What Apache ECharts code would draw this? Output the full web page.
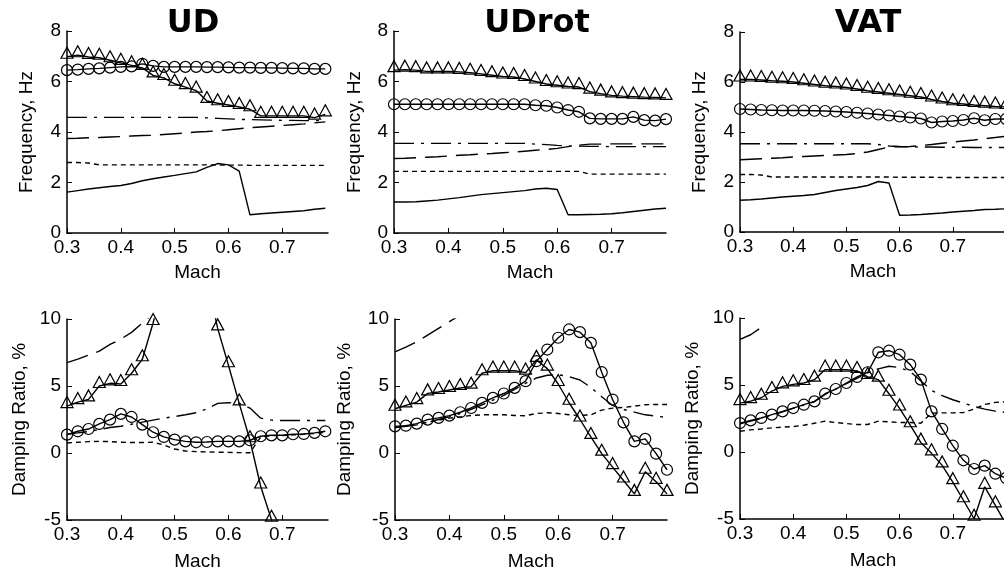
<!DOCTYPE html>
<html>
<head>
<meta charset="utf-8">
<script src="https://cdn.jsdelivr.net/npm/echarts@6/dist/echarts.min.js"></script>
<style>
  html, body { margin: 0; padding: 0; background: #fff; }
  #chart { width: 1004px; height: 573px; }
</style>
</head>
<body>
<div id="chart"></div>
<script>
// Mach grids
const machUD = [0.30,0.32,0.34,0.36,0.38,0.40,0.42,0.44,0.46,0.48,0.50,0.52,0.54,0.56,0.58,0.60,0.62,0.64,0.66,0.68,0.70,0.72,0.74,0.76,0.78];
const machLong = [0.30,0.32,0.34,0.36,0.38,0.40,0.42,0.44,0.46,0.48,0.50,0.52,0.54,0.56,0.58,0.60,0.62,0.64,0.66,0.68,0.70,0.72,0.74,0.76,0.78,0.80];

const panelTitles = ["UD", "UDrot", "VAT"];
const freqTicks = { min: 0, max: 8, interval: 2 };
const dampTicks = { min: -5, max: 10, interval: 5 };

// UD frequency, Hz
const udFreqTri = [6.98,7.04,6.97,6.94,6.84,6.74,6.64,6.54,6.24,6.14,5.91,5.78,5.64,5.23,5.14,5.07,4.99,4.9,4.64,4.64,4.64,4.64,4.64,4.57,4.7];
const udFreqCir = [6.45,6.47,6.5,6.52,6.55,6.58,6.6,6.7,6.62,6.58,6.58,6.58,6.58,6.57,6.57,6.56,6.55,6.55,6.54,6.54,6.53,6.52,6.52,6.5,6.5];
const udFreqDashDot = [4.58,4.58,4.58,4.58,4.58,4.58,4.58,4.58,4.58,4.58,4.58,4.58,4.58,4.56,4.54,4.52,4.5,4.49,4.48,4.47,4.46,4.46,4.45,4.45,4.45];
const udFreqDash = [3.74,3.75,3.77,3.78,3.8,3.82,3.84,3.86,3.87,3.9,3.93,3.96,4.0,4.02,4.05,4.09,4.13,4.17,4.2,4.23,4.26,4.29,4.32,4.36,4.4];
const udFreqDot = [2.79,2.79,2.77,2.7,2.7,2.7,2.7,2.7,2.7,2.7,2.7,2.7,2.7,2.7,2.69,2.69,2.69,2.68,2.68,2.68,2.68,2.68,2.68,2.68,2.68];
const udFreqSolid = [1.62,1.68,1.74,1.79,1.84,1.88,1.96,2.07,2.15,2.22,2.28,2.35,2.42,2.6,2.75,2.7,2.45,0.72,0.76,0.79,0.82,0.85,0.88,0.94,0.98];

// UDrot frequency, Hz
const rotFreqTri = [6.45,6.47,6.45,6.4,6.4,6.4,6.38,6.35,6.3,6.25,6.2,6.18,6.1,6.0,5.9,5.85,5.8,5.78,5.6,5.52,5.45,5.42,5.4,5.38,5.37,5.35];
const rotFreqCir = [5.1,5.1,5.1,5.1,5.1,5.1,5.1,5.1,5.1,5.1,5.1,5.1,5.1,5.06,5.04,4.97,4.87,4.8,4.54,4.52,4.52,4.52,4.6,4.47,4.45,4.51];
const rotFreqDashDot = [3.55,3.55,3.55,3.55,3.55,3.55,3.55,3.55,3.55,3.55,3.55,3.55,3.55,3.52,3.5,3.47,3.45,3.44,3.43,3.43,3.42,3.42,3.42,3.42,3.42,3.42];
const rotFreqDash = [2.95,2.96,2.98,3.0,3.02,3.05,3.08,3.1,3.13,3.15,3.18,3.2,3.24,3.28,3.31,3.35,3.42,3.48,3.52,3.52,3.53,3.53,3.53,3.53,3.53,3.53];
const rotFreqDot = [2.44,2.44,2.44,2.44,2.44,2.44,2.44,2.44,2.44,2.44,2.44,2.44,2.44,2.44,2.44,2.44,2.44,2.44,2.33,2.33,2.33,2.33,2.33,2.33,2.33,2.33];
const rotFreqSolid = [1.23,1.23,1.24,1.27,1.3,1.35,1.4,1.46,1.52,1.56,1.6,1.64,1.68,1.74,1.77,1.72,0.72,0.72,0.73,0.74,0.76,0.8,0.85,0.9,0.95,0.98];

// VAT frequency, Hz
const vatFreqTri = [6.1,6.1,6.08,6.05,6.03,6.0,5.95,5.9,5.85,5.82,5.78,5.72,5.65,5.6,5.55,5.5,5.45,5.4,5.3,5.22,5.15,5.12,5.08,5.05,5.02,5.0];
const vatFreqCir = [4.92,4.9,4.88,4.87,4.86,4.86,4.86,4.85,4.84,4.82,4.8,4.77,4.74,4.7,4.66,4.62,4.58,4.54,4.38,4.42,4.44,4.48,4.55,4.47,4.52,4.52];
const vatFreqDashDot = [3.53,3.53,3.53,3.53,3.53,3.53,3.53,3.53,3.53,3.53,3.53,3.53,3.53,3.5,3.44,3.42,3.41,3.4,3.4,3.39,3.39,3.39,3.38,3.38,3.38,3.38];
const vatFreqDash = [2.89,2.91,2.93,2.95,2.97,3.0,3.02,3.04,3.06,3.08,3.1,3.14,3.2,3.3,3.4,3.41,3.42,3.46,3.5,3.55,3.6,3.64,3.68,3.73,3.78,3.83];
const vatFreqDot = [2.3,2.3,2.28,2.2,2.2,2.2,2.2,2.2,2.2,2.2,2.2,2.2,2.2,2.2,2.2,2.19,2.19,2.19,2.19,2.18,2.18,2.18,2.18,2.18,2.18,2.18];
const vatFreqSolid = [1.27,1.29,1.32,1.36,1.4,1.43,1.46,1.5,1.58,1.66,1.72,1.78,1.86,2.02,1.96,0.67,0.68,0.7,0.73,0.76,0.8,0.83,0.86,0.9,0.91,0.93];

// UD damping ratio, %
const udDampTri = [3.5,3.8,4.0,5.0,5.2,5.15,5.95,7.0,9.7,13.0,15.5,17.0,16.0,13.0,9.3,6.55,3.7,0.95,-2.5,-4.98,-8.0];
const udDampCir = [1.37,1.62,1.79,2.17,2.49,2.92,2.69,2.12,1.55,1.2,1.0,0.87,0.8,0.82,0.87,0.87,0.87,0.95,1.25,1.32,1.32,1.4,1.42,1.5,1.62];
const udDampDashDot = [1.4,1.5,1.6,1.75,1.9,2.0,2.15,2.3,2.45,2.6,2.72,2.85,3.0,3.3,3.7,3.75,3.7,3.35,2.6,2.45,2.42,2.42,2.42,2.42,2.42];
const udDampDash = [6.75,7.0,7.3,7.6,8.1,8.5,9.0,9.7,10.4];
const udDampDot = [0.75,0.8,0.85,0.87,0.85,0.8,0.78,0.78,0.8,0.6,0.3,0.15,0.1,0.08,0.06,0.05,0.03,0.02,1.2,1.3,1.3,1.35,1.4,1.45,1.55];

// UDrot damping ratio, %
const rotDampTri = [3.3,3.55,3.8,4.45,4.55,4.7,4.85,4.95,5.95,6.15,6.15,6.15,6.0,6.95,6.3,5.15,3.75,2.5,1.2,-0.05,-1.05,-2.05,-3.05,-1.4,-2.15,-3.05];
const rotDampCir = [1.99,2.04,2.19,2.49,2.62,2.79,3.04,3.36,3.74,4.11,4.44,4.86,5.36,6.85,7.72,8.6,9.22,9.02,8.22,6.03,3.99,2.29,0.87,1.05,-0.05,-1.25];
const rotDampDashDot = [1.9,2.0,2.1,2.3,2.5,2.7,2.95,3.25,3.6,3.95,4.3,4.75,5.2,5.6,5.8,5.85,5.7,5.45,4.9,4.2,3.55,3.25,3.05,2.85,2.75,2.65];
const rotDampDash = [7.55,7.9,8.3,8.8,9.3,9.8,10.3];
const rotDampDot = [1.9,2.0,2.1,2.3,2.45,2.6,2.7,2.8,2.85,2.85,2.85,2.8,2.78,2.95,3.0,2.95,2.85,2.8,2.85,3.2,3.35,3.4,3.5,3.6,3.62,3.62];

// VAT damping ratio, %
const vatDampTri = [3.65,3.8,4.05,4.55,4.9,5.05,5.15,5.4,6.15,6.15,6.15,6.05,5.6,5.4,4.35,3.25,2.0,0.7,-0.1,-1.0,-2.25,-3.6,-4.98,-2.6,-3.98,-5.4];
const vatDampCir = [2.16,2.36,2.54,2.79,3.03,3.28,3.53,3.78,4.35,4.7,5.15,5.6,5.95,7.44,7.56,7.26,6.52,5.4,3.03,1.72,0.47,-0.62,-1.27,-1.02,-1.62,-1.94];
const vatDampDashDot = [2.1,2.3,2.5,2.75,3.0,3.25,3.5,3.75,4.3,4.7,5.1,5.5,5.9,6.2,6.4,6.3,6.0,5.3,4.6,4.2,3.9,3.65,3.4,3.2,3.05,2.95];
const vatDampDash = [8.4,8.75,9.3];
const vatDampDot = [1.55,1.65,1.72,1.8,1.85,1.9,2.0,2.15,2.3,2.2,2.12,2.05,2.05,2.3,2.25,2.2,2.2,2.15,2.9,2.92,2.92,2.95,3.2,3.55,3.7,3.75];

const txtFont = "'Liberation Sans', Arial, sans-serif";

// line styles, like matlab '-^', '-o', '-.', '--', ':', '-'
const styles = {
  tri: { symbol: "triangle", symbolSize: [12, 11], symbolOffset: [0, -4], type: "solid" },
  cir: { symbol: "circle", symbolSize: 11, type: "solid" },
  dashdot: { symbol: "none", type: [20, 7, 3, 7] },
  dash: { symbol: "none", type: [22, 9] },
  dot: { symbol: "none", type: [5, 4] },
  solid: { symbol: "none", type: "solid" },
};

// grid boxes: left, top, width, height, x max, name gaps
const panels = [
  { box: [67, 31, 261, 202], xmax: 0.785, ticks: freqTicks, yName: "Frequency, Hz", yGap: 31, xGap: 30,
    lines: { tri: udFreqTri, cir: udFreqCir, dashdot: udFreqDashDot, dash: udFreqDash, dot: udFreqDot, solid: udFreqSolid }, mach: machUD },
  { box: [394, 31, 272, 202], xmax: 0.8, ticks: freqTicks, yName: "Frequency, Hz", yGap: 30, xGap: 30,
    lines: { tri: rotFreqTri, cir: rotFreqCir, dashdot: rotFreqDashDot, dash: rotFreqDash, dot: rotFreqDot, solid: rotFreqSolid }, mach: machLong },
  { box: [740, 32, 266, 200], xmax: 0.8, ticks: freqTicks, yName: "Frequency, Hz", yGap: 31, xGap: 30,
    lines: { tri: vatFreqTri, cir: vatFreqCir, dashdot: vatFreqDashDot, dash: vatFreqDash, dot: vatFreqDot, solid: vatFreqSolid }, mach: machLong },
  { box: [67, 319, 261, 201], xmax: 0.785, ticks: dampTicks, yName: "Damping Ratio, %", yGap: 38, xGap: 32,
    lines: { tri: udDampTri, cir: udDampCir, dashdot: udDampDashDot, dash: udDampDash, dot: udDampDot }, mach: machUD },
  { box: [395, 319, 272, 201], xmax: 0.8, ticks: dampTicks, yName: "Damping Ratio, %", yGap: 41, xGap: 32,
    lines: { tri: rotDampTri, cir: rotDampCir, dashdot: rotDampDashDot, dash: rotDampDash, dot: rotDampDot }, mach: machLong },
  { box: [740, 318, 266, 201], xmax: 0.8, ticks: dampTicks, yName: "Damping Ratio, %", yGap: 38, xGap: 32,
    lines: { tri: vatDampTri, cir: vatDampCir, dashdot: vatDampDashDot, dash: vatDampDash, dot: vatDampDot }, mach: machLong },
];

const titleCenters = [193, 537, 868];

function pairs(xs, ys) {
  return ys.map(function (v, i) { return [xs[i], v]; });
}

const grid = [], xAxis = [], yAxis = [], series = [];
panels.forEach(function (p, i) {
  grid.push({ left: p.box[0], top: p.box[1], width: p.box[2], height: p.box[3],
    containLabel: false, outerBoundsMode: "none" });
  xAxis.push({
    type: "value", gridIndex: i, min: 0.3, max: p.xmax, interval: 0.1,
    name: "Mach", nameLocation: "middle", nameGap: p.xGap, nameMoveOverlap: false,
    nameTextStyle: { fontFamily: txtFont, fontSize: 19, color: "#000" },
    axisLine: { show: true, onZero: false, lineStyle: { color: "#000", width: 1.5 } },
    axisTick: { show: true, inside: true, length: 5, lineStyle: { color: "#000", width: 1 } },
    axisLabel: { margin: 5, showMaxLabel: false, fontFamily: txtFont, fontSize: 19, color: "#000" },
    splitLine: { show: false },
  });
  yAxis.push({
    type: "value", gridIndex: i, min: p.ticks.min, max: p.ticks.max, interval: p.ticks.interval,
    name: p.yName, nameLocation: "middle", nameGap: p.yGap, nameMoveOverlap: false,
    nameTextStyle: { fontFamily: txtFont, fontSize: 19, color: "#000" },
    axisLine: { show: true, onZero: false, lineStyle: { color: "#000", width: 1.5 } },
    axisTick: { show: true, inside: true, length: 5, lineStyle: { color: "#000", width: 1 } },
    axisLabel: { margin: 6, fontFamily: txtFont, fontSize: 19, color: "#000" },
    splitLine: { show: false },
  });
  Object.keys(p.lines).forEach(function (k) {
    const s = styles[k];
    series.push({
      type: "line", xAxisIndex: i, yAxisIndex: i,
      data: pairs(p.mach, p.lines[k]),
      symbol: s.symbol, symbolSize: s.symbolSize || 4, symbolOffset: s.symbolOffset || [0, 0],
      showSymbol: s.symbol !== "none",
      itemStyle: { color: "rgba(0,0,0,0)", borderColor: "#000", borderWidth: 1.2 },
      lineStyle: { color: "#000", width: 1.4, type: s.type },
      clip: true, silent: true, z: k === "tri" || k === "cir" ? 3 : 2,
    });
  });
});

const chart = echarts.init(document.getElementById("chart"));
chart.setOption({
  animation: false,
  backgroundColor: "#fff",
  title: panelTitles.map(function (t, i) {
    return { text: t, left: titleCenters[i], top: 8, textAlign: "center", padding: 0,
      textStyle: { fontFamily: "'DejaVu Sans', sans-serif", fontWeight: "bold", fontSize: 32, color: "#000" } };
  }),
  grid: grid,
  xAxis: xAxis,
  yAxis: yAxis,
  series: series,
});
</script>
</body>
</html>
